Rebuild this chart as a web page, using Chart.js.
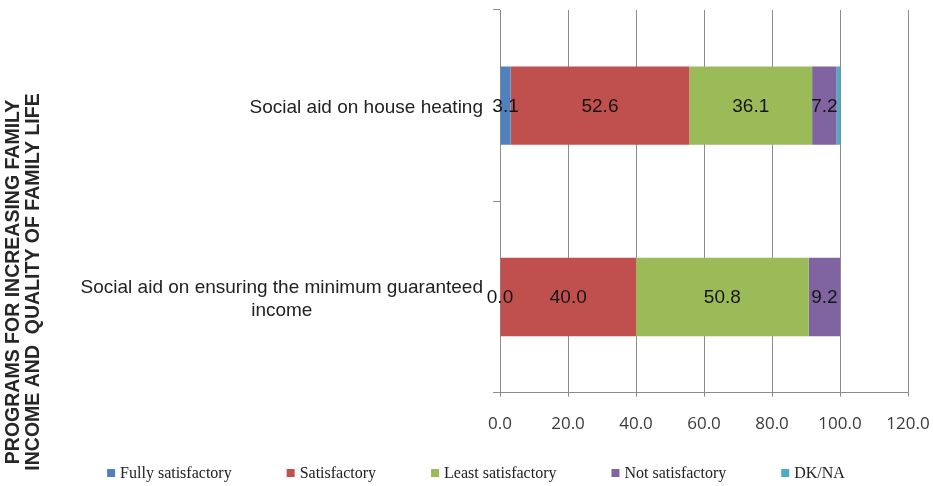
<!DOCTYPE html>
<html>
<head>
<meta charset="utf-8">
<script src="https://cdn.jsdelivr.net/npm/chart.js@4"></script>
<style>
  html, body { margin: 0; padding: 0; background: #fff; }
  #wrap { width: 933px; height: 486px; position: relative; }
</style>
</head>
<body>
<div id="wrap"><canvas id="myBar"></canvas></div>
<script>
var programs = [
    ['Social aid on house heating'],
    ['Social aid on ensuring the minimum guaranteed', 'income']
]
var fullySatisfactory = [3.1, 0.0]
var satisfactory = [52.6, 40.0]
var leastSatisfactory = [36.1, 50.8]
var notSatisfactory = [7.2, 9.2]
var dkNa = [1.0, 0.0]
var xTicks = [0, 20, 40, 60, 80, 100, 120]
var axisTitle = ['PROGRAMS FOR INCREASING FAMILY', 'INCOME AND  QUALITY OF FAMILY LIFE']

var gridColor = '#8c8c8c'

// y axis title, two rotated lines at the far left
const sideTitle = {
    id: 'sideTitle',
    afterDraw(chart) {
        const ctx = chart.ctx
        ctx.save()
        ctx.font = 'bold 19.5px "Liberation Sans", Arial, sans-serif'
        ctx.fillStyle = '#262626'
        ctx.textAlign = 'center'
        ctx.textBaseline = 'middle'
        axisTitle.forEach((line, i) => {
            ctx.save()
            ctx.translate(14 + i * 20, 282)
            ctx.rotate(-Math.PI / 2)
            ctx.fillText(line, 0, 0)
            ctx.restore()
        })
        ctx.restore()
    }
}

// category labels: right aligned, wrapped lines centred under each other
const catLabels = {
    id: 'catLabels',
    afterDraw(chart) {
        const ctx = chart.ctx
        const y = chart.scales.y
        ctx.save()
        ctx.font = '19px "Liberation Sans", Arial, sans-serif'
        ctx.fillStyle = '#222'
        ctx.textAlign = 'center'
        ctx.textBaseline = 'middle'
        programs.forEach((lines, i) => {
            const w = Math.max(...lines.map(l => ctx.measureText(l).width))
            const cx = chart.chartArea.left - 17 - w / 2
            const cy = y.getPixelForValue(i) + 2
            const lh = 23
            lines.forEach((l, j) => {
                ctx.fillText(l, cx, cy + (j - (lines.length - 1) / 2) * lh)
            })
        })
        ctx.restore()
    }
}

// values in the middle of each segment (DK/NA left out)
const valueLabels = {
    id: 'valueLabels',
    afterDatasetsDraw(chart) {
        const ctx = chart.ctx
        ctx.save()
        ctx.font = '19px "Liberation Sans", Arial, sans-serif'
        ctx.fillStyle = '#151515'
        ctx.textAlign = 'center'
        ctx.textBaseline = 'middle'
        chart.data.datasets.forEach((ds, i) => {
            if (ds.label == 'DK/NA') return
            chart.getDatasetMeta(i).data.forEach((bar, j) => {
                const x = (bar.x + bar.base) / 2
                ctx.fillText(ds.data[j].toFixed(1), x, bar.y + 1)
            })
        })
        ctx.restore()
    }
}

// legend row along the bottom, built from the datasets
const bottomLegend = {
    id: 'bottomLegend',
    afterDraw(chart) {
        const ctx = chart.ctx
        const gap = 55
        const box = 8
        ctx.save()
        ctx.font = '16px "Liberation Serif", "Times New Roman", serif'
        ctx.textBaseline = 'middle'
        ctx.textAlign = 'left'
        const items = chart.data.datasets.map(ds => ({
            text: ds.label,
            color: ds.backgroundColor,
            w: box + 5 + ctx.measureText(ds.label).width
        }))
        const total = items.reduce((s, it) => s + it.w, 0) + gap * (items.length - 1)
        let x = 476 - total / 2
        const y = 473
        items.forEach(it => {
            ctx.fillStyle = it.color
            ctx.fillRect(x, y - box / 2, box, box)
            ctx.fillStyle = '#222'
            ctx.fillText(it.text, x + box + 5, y + 1)
            x += it.w + gap
        })
        ctx.restore()
    }
}

const ctx = document.getElementById('myBar')
const data = {
    labels: programs,
    datasets: [
        { label: 'Fully satisfactory', data: fullySatisfactory, backgroundColor: '#4f81bd' },
        { label: 'Satisfactory', data: satisfactory, backgroundColor: '#c0504d' },
        { label: 'Least satisfactory', data: leastSatisfactory, backgroundColor: '#9bbb59' },
        { label: 'Not satisfactory', data: notSatisfactory, backgroundColor: '#8064a2' },
        { label: 'DK/NA', data: dkNa, backgroundColor: '#4bacc6' }
    ]
}
const config = {
    type: 'bar',
    data: data,
    options: {
        indexAxis: 'y',
        responsive: true,
        maintainAspectRatio: false,
        animation: false,
        barPercentage: 1,
        categoryPercentage: 0.41,
        layout: { padding: { left: 70, right: 0, top: 10, bottom: 35 } },
        scales: {
            x: {
                stacked: true,
                min: 0,
                max: 120,
                afterBuildTicks: s => { s.ticks = xTicks.map(v => ({ value: v })) },
                afterFit: s => { s.paddingRight = 25 },
                grid: { color: gridColor, tickLength: 4 },
                border: { color: gridColor },
                ticks: {
                    padding: 17,
                    color: '#3a3a3a',
                    font: { family: '"Open Sans", sans-serif', size: 17 },
                    callback: v => Number(v).toFixed(1)
                }
            },
            y: {
                stacked: true,
                afterFit: s => { s.width = 430 },
                grid: { drawOnChartArea: false, color: gridColor, tickLength: 7 },
                border: { color: gridColor },
                ticks: { display: false }
            }
        },
        plugins: {
            tooltip: { enabled: false },
            legend: { display: false }
        }
    },
    plugins: [sideTitle, catLabels, valueLabels, bottomLegend]
}
const myChart = new Chart(ctx, config)
</script>
</body>
</html>
